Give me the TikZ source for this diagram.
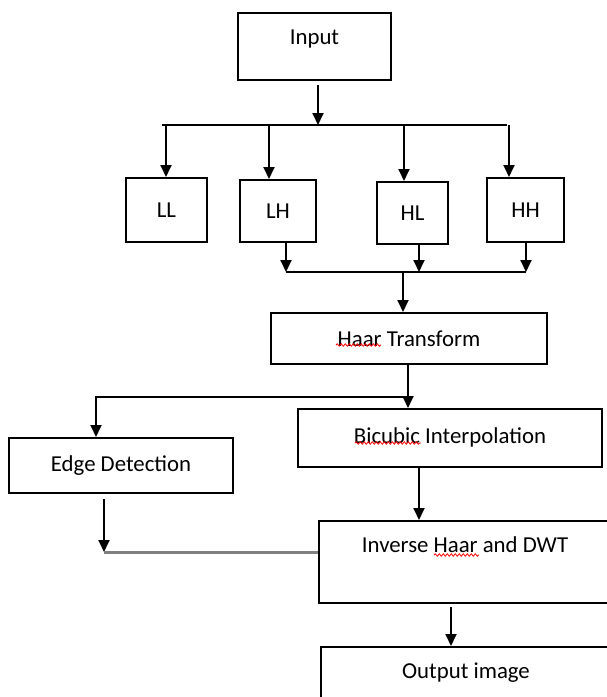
\documentclass[tikz,border=0pt]{standalone}
\usepackage{fontspec}
\setmainfont{Carlito}
\usetikzlibrary{arrows.meta,decorations.pathmorphing}
\tikzset{
  >={Triangle[length=12pt,width=11pt]},
  blok/.style={
    rectangle,
    draw=black, line width=1.8pt,
    inner sep=0pt,
    anchor=north,
    text centered},
  topblok/.style={blok, text height=31.5pt},
  line/.style={draw, line width=1.8pt},
  arr/.style={line, ->},
  joinline/.style={draw, line width=3pt, black!50},
  squiggle/.style={draw=red, line width=0.8pt, decorate,
    decoration={snake, amplitude=1.2pt, segment length=4pt}},
}

\begin{document}
\begin{tikzpicture}[x=1pt,y=-1pt,font=\fontsize{22.8}{27}\selectfont]
  \useasboundingbox (0,0) rectangle (606,697);
  % boxes
  \node[topblok, minimum width=153pt, text depth=35.5pt] (input) at (314.5,12) {Input};
  \node[blok, minimum width=81pt, minimum height=64pt] (ll) at (166.5,177) {LL};
  \node[blok, minimum width=76pt, minimum height=62pt] (lh) at (278,179) {LH};
  \node[blok, minimum width=71pt, minimum height=62pt] (hl) at (412.5,181) {HL};
  \node[blok, minimum width=77pt, minimum height=64pt] (hh) at (525.5,177) {HH};
  \node[blok, minimum width=276pt, minimum height=51pt] (haar) at (409,312) {Haar Transform};
  \node[blok, minimum width=224pt, minimum height=55pt] (edge) at (121,437) {Edge Detection};
  \node[blok, minimum width=304pt, minimum height=58pt] (bicubic) at (450,408) {Bicubic Interpolation};
  \node[topblok, minimum width=292pt, text depth=50.5pt] (inverse) at (465,520) {Inverse Haar and DWT};
  \node[topblok, minimum width=290pt, text depth=45pt] (output) at (466,646) {Output image};

  % split into the four bands
  \coordinate (j0) at (318,125);
  \coordinate (jl) at (162,125);
  \coordinate (jr) at (507,125);
  \draw[arr, shorten <=4pt] (input.south -| j0) -- (j0);
  \draw[line] (jl) -- (jr);
  \foreach \n/\x in {ll/166,lh/269,hl/404,hh/509}
    \draw[arr] (\x,125) -- (\n.north -| \x,0);

  % gather LH, HL, HH
  \coordinate (m0) at (403,272);
  \coordinate (m1) at (286,272);
  \coordinate (m2) at (419,272);
  \coordinate (m3) at (526,272);
  \draw[arr] (lh.south -| m1) -- (m1);
  \draw[arr] (hl.south -| m2) -- (m2);
  \draw[arr] (hh.south -| m3) -- (m3);
  \draw[line] (m1) -- (m3);
  \draw[arr] (m0) -- (m0 |- haar.north);

  % haar to bicubic and edge
  \coordinate (s0) at (408,397);
  \coordinate (s1) at (96,397);
  \draw[arr] (haar.south -| s0) -- (s0 |- bicubic.north);
  \draw[arr] (s0) -- (s1) -- (s1 |- edge.north);

  % into inverse, then output
  \coordinate (b0) at (419,0);
  \coordinate (e0) at (104,552);
  \coordinate (o0) at (451,0);
  \draw[arr] (bicubic.south -| b0) -- (inverse.north -| b0);
  \draw[arr, shorten <=5pt] (edge.south -| e0) -- (e0);
  \draw[joinline] (e0) -- (e0 -| inverse.west);
  \draw[arr, shorten <=3pt] (inverse.south -| o0) -- (output.north -| o0);

  % spell-check marks
  \draw[squiggle] (336,345) -- (381,345);
  \draw[squiggle] (355,443) -- (421,443);
  \draw[squiggle] (434,555) -- (479,555);
\end{tikzpicture}
\end{document}
